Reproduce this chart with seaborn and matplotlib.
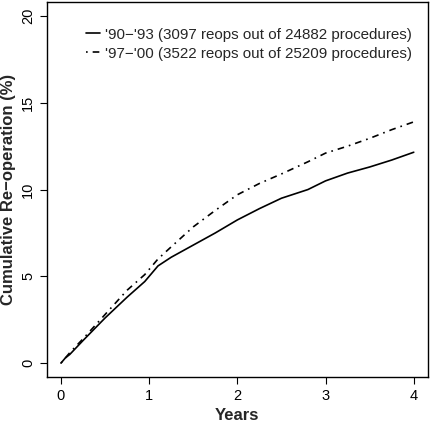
import matplotlib
matplotlib.use("Agg")
import matplotlib.pyplot as plt
import numpy as np
import pandas as pd
import seaborn as sns

# values
years = [0, 0.05, 0.1, 0.25, 0.5, 0.75, 0.95, 1.0, 1.1, 1.25, 1.5, 1.75, 2.0, 2.25, 2.5, 2.8, 3.0, 3.25, 3.5, 3.75, 4.0]
reop_90_93 = [0, 0.3, 0.5, 1.3, 2.6, 3.8, 4.7, 5.0, 5.6, 6.1, 6.8, 7.5, 8.25, 8.9, 9.5, 10.0, 10.5, 10.95, 11.3, 11.7, 12.15]
reop_97_00 = [0, 0.3, 0.6, 1.4, 2.8, 4.2, 5.1, 5.4, 6.0, 6.7, 7.85, 8.8, 9.7, 10.35, 10.9, 11.6, 12.1, 12.5, 12.95, 13.45, 13.9]
labels = ["'90\u2212'93 (3097 reops out of 24882 procedures)",
          "'97\u2212'00 (3522 reops out of 25209 procedures)"]

df = pd.concat([
    pd.DataFrame({"Years": years, "Reop": reop_90_93, "Period": labels[0]}),
    pd.DataFrame({"Years": years, "Reop": reop_97_00, "Period": labels[1]}),
])

sns.set_style("ticks")
plt.rcParams["font.family"] = ["Liberation Sans", "DejaVu Sans"]

fig = plt.figure(figsize=(4.3, 4.25), dpi=100)
ax = fig.add_axes([0.109, 0.113, 0.886, 0.882])

sns.lineplot(data=df, x="Years", y="Reop", style="Period", color="black",
             dashes={labels[0]: "", labels[1]: (1, 3, 4, 3)}, linewidth=1.2, ax=ax)

ax.set_xlim(-0.16, 4.16)
ax.set_ylim(-0.8, 20.8)
ax.set_xticks([0, 1, 2, 3, 4])
ax.set_yticks([0, 5, 10, 15, 20])
ax.tick_params(axis="both", labelsize=10.5, direction="out", length=5, width=0.8, colors="black")
ax.tick_params(axis="y", labelrotation=90)
for lab in ax.get_yticklabels():
    lab.set_va("center")
for s in ax.spines.values():
    s.set_linewidth(1.0)
    s.set_color("black")

ax.set_xlabel("Years", fontsize=12, fontweight="bold")
ax.set_ylabel("Cumulative Re\u2212operation (%)", fontsize=12, fontweight="bold")

leg = ax.legend(loc="upper right", bbox_to_anchor=(0.993, 0.968), frameon=False,
                fontsize=10.9, handlelength=0.95, handletextpad=0.3, labelspacing=0.32)

fig.savefig("out.png", dpi=100)
